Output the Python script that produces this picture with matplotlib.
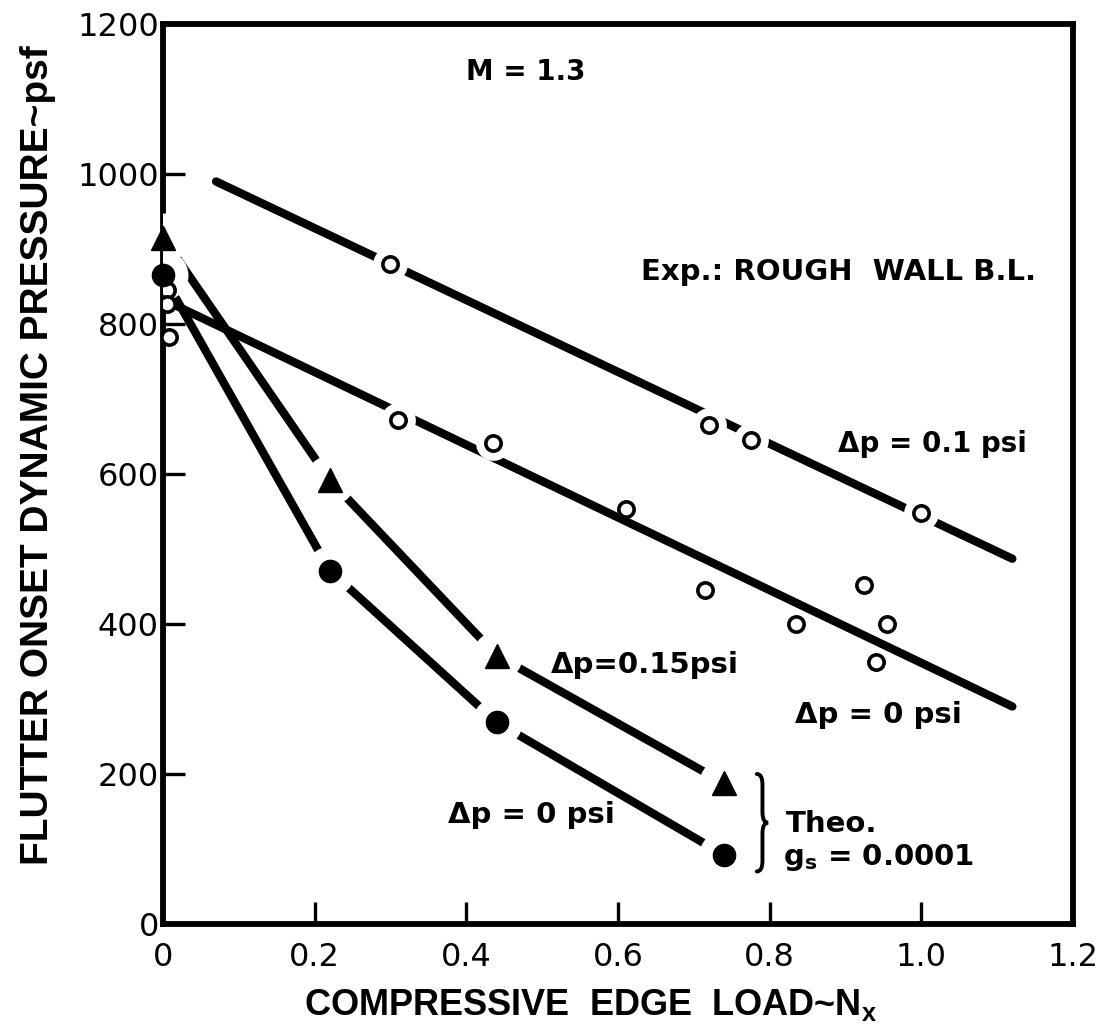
import matplotlib
matplotlib.use("Agg")
import matplotlib.pyplot as plt
from matplotlib import font_manager
from matplotlib.path import Path
from matplotlib.patches import PathPatch

# ---- data -------------------------------------------------------------
# experiment, delta p = 0.1 psi (open circles) and its faired line
exp01_x = [0.30, 0.72, 0.775, 1.00]
exp01_y = [880, 665, 645, 548]
fit01_x = [0.07, 1.12]
fit01_y = [990, 487]

# experiment, delta p = 0 psi (open circles) and its faired line
exp0_x = [0.005, 0.005, 0.008, 0.31, 0.435, 0.61, 0.715, 0.835, 0.925, 0.955, 0.94]
exp0_y = [845, 827, 783, 672, 642, 553, 445, 400, 452, 400, 350]
fit0_x = [0.01, 1.12]
fit0_y = [828, 290]

# theory, g_s = 0.0001
theo015_x = [0.0, 0.22, 0.44, 0.74]
theo015_y = [915, 592, 358, 188]
theo0_x = [0.0, 0.22, 0.44, 0.74]
theo0_y = [865, 471, 269, 92]

xticks = [0, 0.2, 0.4, 0.6, 0.8, 1.0, 1.2]
xtick_labels = ["0", "0.2", "0.4", "0.6", "0.8", "1.0", "1.2"]
yticks = [0, 200, 400, 600, 800, 1000, 1200]
ytick_labels = ["0", "200", "400", "600", "800", "1000", "1200"]


def pick_font(names):
    available = {f.name for f in font_manager.fontManager.ttflist}
    for n in names:
        if n in available:
            return n
    return "DejaVu Sans"


main_font = "DejaVu Sans"
label_font = pick_font(["Liberation Sans", "Arimo", "DejaVu Sans"])

plt.rcParams["font.family"] = [main_font]

fig = plt.figure(figsize=(11.1, 10.31), dpi=100)
ax = fig.add_axes([163 / 1110, 107 / 1031, 910 / 1110, 900 / 1031])
ax.set_xlim(0, 1.2)
ax.set_ylim(0, 1200)

LW = 6.0
# faired experimental lines
ax.plot(fit01_x, fit01_y, color="black", lw=LW, solid_capstyle="round", zorder=2)
ax.plot(fit0_x, fit0_y, color="black", lw=LW, solid_capstyle="round", zorder=2)
# theory lines
ax.plot(theo015_x, theo015_y, color="black", lw=LW, solid_capstyle="round", zorder=2)
ax.plot(theo0_x, theo0_y, color="black", lw=LW, solid_capstyle="round", zorder=2)

# white halos break the lines around each symbol
ax.plot(theo015_x, theo015_y, "o", ms=36, color="white", mec="none", zorder=3)
ax.plot(theo0_x, theo0_y, "o", ms=36, color="white", mec="none", zorder=3)
ax.plot(exp01_x, exp01_y, "o", ms=25, color="white", mec="none", zorder=3)
ax.plot(exp0_x[3:5], exp0_y[3:5], "o", ms=25, color="white", mec="none", zorder=3)

# symbols
ax.plot(exp01_x, exp01_y, "o", ms=11, mfc="white", mec="black", mew=2.6, zorder=5)
ax.plot(exp0_x, exp0_y, "o", ms=11, mfc="white", mec="black", mew=2.6, zorder=5)
ax.plot(theo015_x, theo015_y, "^", ms=17, color="black", zorder=5, clip_on=False)
ax.plot(theo0_x, theo0_y, "o", ms=16, color="black", zorder=5, clip_on=False)

# axes styling
for side in ["left", "right", "top", "bottom"]:
    ax.spines[side].set_linewidth(4.2)
ax.set_xticks(xticks)
ax.set_xticklabels(xtick_labels)
ax.set_yticks(yticks)
ax.set_yticklabels(ytick_labels)
ax.tick_params(direction="in", length=16, width=2.4, labelsize=23)
ax.tick_params(axis="y", pad=3)
ax.tick_params(axis="x", pad=13)

ax.set_xlabel("COMPRESSIVE  EDGE  LOAD~N$\\mathregular{_x}$", fontsize=26,
              family=label_font, fontweight="bold")
ax.set_ylabel("FLUTTER ONSET DYNAMIC PRESSURE~psf", fontsize=28,
              family=label_font, fontweight="bold")
ax.xaxis.set_label_coords(0.47, -0.07)
ax.yaxis.set_label_coords(-0.118, 0.521)

# annotations
TS = 21
ax.text(0.40, 1136, "M = 1.3", fontsize=20, fontweight="bold", va="center")
ax.text(0.63, 869, "Exp.: ROUGH  WALL B.L.", fontsize=TS, fontweight="bold", va="center")
ax.text(0.89, 640, "Δp = 0.1 psi", fontsize=20, fontweight="bold", va="center")
ax.text(0.834, 279, "Δp = 0 psi", fontsize=TS, fontweight="bold", va="center")
ax.text(0.512, 345, "Δp=0.15psi", fontsize=TS, fontweight="bold", va="center")
ax.text(0.376, 145, "Δp = 0 psi", fontsize=TS, fontweight="bold", va="center")

# curly brace grouping the two theory curves
bx0, bx1 = 0.783, 0.798
by_top, by_bot = 200, 70
by_mid = 0.5 * (by_top + by_bot)
bxm = 0.5 * (bx0 + bx1)
r = 14
brace = Path(
    [(bx0, by_top), (bxm, by_top), (bxm, by_top - r),
     (bxm, by_mid + r),
     (bxm, by_mid), (bx1, by_mid),
     (bxm, by_mid), (bxm, by_mid - r),
     (bxm, by_bot + r),
     (bxm, by_bot), (bx0, by_bot)],
    [Path.MOVETO, Path.CURVE3, Path.CURVE3,
     Path.LINETO,
     Path.CURVE3, Path.CURVE3,
     Path.CURVE3, Path.CURVE3,
     Path.LINETO,
     Path.CURVE3, Path.CURVE3])
ax.add_patch(PathPatch(brace, fill=False, lw=2.8, color="black", capstyle="round"))

ax.text(0.822, 134, "Theo.", fontsize=TS, fontweight="bold", va="center")
ax.text(0.817, 89, "g$\\mathregular{_s}$ = 0.0001", fontsize=TS, fontweight="bold", va="center")

fig.savefig("out.png", dpi=100, facecolor="white")
